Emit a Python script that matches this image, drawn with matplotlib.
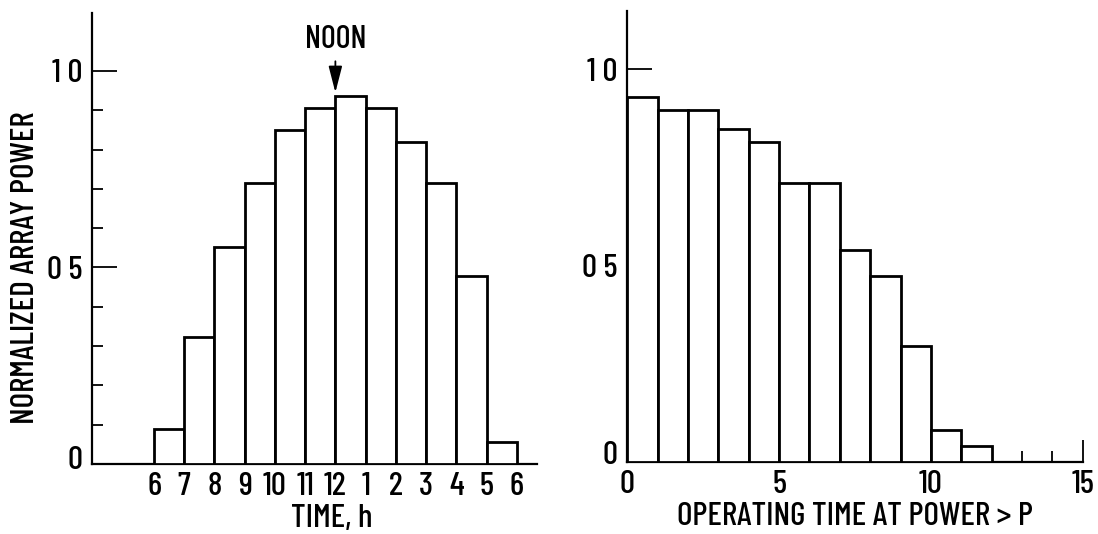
"""
Normalized solar array power over the day and the matching
operating-time (duration) histogram.
"""

import matplotlib.pyplot as plt
from matplotlib.ticker import FixedLocator
from matplotlib.transforms import ScaledTranslation

plt.rcParams['font.family'] = ['Barlow Condensed', 'Archivo Narrow', 'DejaVu Sans']
plt.rcParams['font.weight'] = 500

# ── Data ────────────────────────────────────────────────────────────────────
hour_start = [6, 7, 8, 9, 10, 11, 12, 13, 14, 15, 16, 17]        # bar left edges (24 h)
hour_power = [0.088, 0.323, 0.551, 0.715, 0.850, 0.905,
              0.935, 0.905, 0.818, 0.715, 0.479, 0.057]
hour_ticks = [6, 7, 8, 9, 10, 11, 12, 13, 14, 15, 16, 17, 18]
hour_labels = ['6', '7', '8', '9', '10', '11', '12', '1', '2', '3', '4', '5', '6']

op_start = [0, 1, 2, 3, 4, 5, 6, 7, 8, 9, 10, 11]
op_power = [0.929, 0.895, 0.895, 0.847, 0.814, 0.711,
            0.711, 0.540, 0.473, 0.294, 0.081, 0.040]
op_ticks = [0, 5, 10, 15]
op_labels = ['0', '5', '10', '15']

y_ticks = [0, 0.5, 1.0]
y_labels = ['0', '0 5', '1 0']
y_minor = [0.1, 0.2, 0.3, 0.4, 0.6, 0.7, 0.8, 0.9]

TICK_FS, LABEL_FS, W = 24, 24, 500

# ── Figure ─────────────────────────────────────────────────────────────────
fig = plt.figure(figsize=(10.98, 5.34), dpi=100)
ax1 = fig.add_axes([0.0841, 0.1311, 0.4047, 0.8451])
ax2 = fig.add_axes([0.5713, 0.1354, 0.4148, 0.8446])

BAR = dict(width=1.0, align='edge', facecolor='white', edgecolor='black',
           linewidth=2.0, zorder=3)


def style_axes(ax):
    for side in ('top', 'right'):
        ax.spines[side].set_visible(False)
    for side in ('left', 'bottom'):
        ax.spines[side].set_linewidth(1.6)
    ax.set_yticks(y_ticks)
    ax.set_yticklabels(y_labels, fontsize=TICK_FS, fontweight=W)
    ax.yaxis.set_minor_locator(FixedLocator(y_minor))
    ax.tick_params(axis='y', which='major', direction='in', length=18,
                   width=1.3, pad=7)
    ax.tick_params(axis='y', which='minor', direction='in', length=8,
                   width=1.3)


def lift_zero(ax, px):
    # the "0" label sits a little above the baseline in the original
    lbl = ax.yaxis.get_major_ticks()[0].label1
    lbl.set_transform(lbl.get_transform() +
                      ScaledTranslation(0, px / 100, fig.dpi_scale_trans))


# ── Left: power vs. time of day ────────────────────────────────────────────
ax1.bar(hour_start, hour_power, **BAR)
ax1.set_xlim(3.96, 18.66)
ax1.set_ylim(0, 1.148)
style_axes(ax1)
ax1.set_xticks(hour_ticks)
ax1.set_xticklabels(hour_labels, fontsize=TICK_FS, fontweight=W)
ax1.tick_params(axis='x', length=0, pad=6)
ax1.set_xlabel('TIME, h', fontsize=LABEL_FS, fontweight=W)
ax1.xaxis.set_label_coords(0.539, -0.088)
ax1.set_ylabel('NORMALIZED ARRAY POWER', fontsize=LABEL_FS, fontweight=W)
ax1.yaxis.set_label_coords(-0.118, 0.435)
lift_zero(ax1, 6)

ax1.annotate('NOON', xy=(12, 0.945), xytext=(12, 1.079),
             ha='center', va='center', fontsize=23, fontweight=W,
             arrowprops=dict(arrowstyle='-|>,head_length=0.7,head_width=0.18',
                             color='black', lw=1.3, shrinkA=3, shrinkB=0))

# ── Right: operating time at power > P ────────────────────────────────────
ax2.bar(op_start, op_power, **BAR)
ax2.set_xlim(0, 15)
ax2.set_ylim(0, 1.149)
style_axes(ax2)
ax2.set_xticks(op_ticks)
ax2.set_xticklabels(op_labels, fontsize=TICK_FS, fontweight=W)
ax2.xaxis.set_minor_locator(FixedLocator(list(range(1, 15))))
ax2.tick_params(axis='x', which='major', direction='in', length=16,
                width=1.3, pad=6)
ax2.tick_params(axis='x', which='minor', direction='in', length=8,
                width=1.3)
ax2.set_xlabel('OPERATING TIME AT POWER > P', fontsize=LABEL_FS, fontweight=W)
ax2.xaxis.set_label_coords(0.5, -0.09)
lift_zero(ax2, 9)

fig.savefig('out.png', dpi=100)
